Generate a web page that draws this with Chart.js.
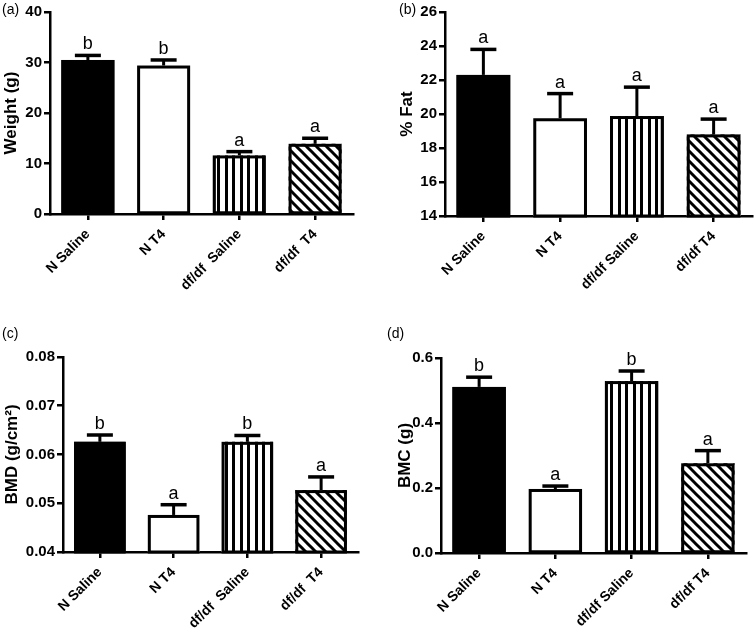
<!DOCTYPE html>
<html><head><meta charset="utf-8">
<script src="https://cdn.jsdelivr.net/npm/chart.js@4/dist/chart.umd.min.js"></script>
<style>
body{margin:0;background:#fff;}
#wrap{position:relative;width:756px;height:632px;overflow:hidden;background:#fff}
canvas{position:absolute}
.lbl{position:absolute;font:14px "Liberation Sans",Arial,sans-serif;color:#000}
</style></head><body>
<div id="wrap">
<canvas id="ca" width="378" height="316" style="left:0;top:0"></canvas>
<canvas id="cb" width="378" height="316" style="left:378px;top:0"></canvas>
<canvas id="cc" width="378" height="316" style="left:0;top:316px"></canvas>
<canvas id="cd" width="378" height="316" style="left:378px;top:316px"></canvas>
<div class="lbl" style="left:2px;top:1px">(a)</div>
<div class="lbl" style="left:399px;top:1px">(b)</div>
<div class="lbl" style="left:2px;top:325px">(c)</div>
<div class="lbl" style="left:387px;top:325px">(d)</div>
</div>
<script>
// ---- data ----
const categoriesA = ["N Saline", "N T4", "df/df  Saline", "df/df  T4"];
const categoriesB = ["N Saline", "N T4", "df/df Saline", "df/df T4"];
const categoriesC = ["N Saline", "N T4", "df/df  Saline", "df/df  T4"];
const categoriesD = ["N Saline", "N T4", "df/df Saline", "df/df T4"];

const weightMean = [30.5, 29.4, 11.6, 13.9];
const weightSem = [0.9, 1.1, 0.75, 1.1];
const weightLetters = ["b", "b", "a", "a"];
const weightTicks = [0, 10, 20, 30, 40];
const weightTickLabels = ["0", "10", "20", "30", "40"];

const fatMean = [22.3, 19.75, 19.88, 18.8];
const fatSem = [1.5, 1.45, 1.7, 0.9];
const fatLetters = ["a", "a", "a", "a"];
const fatTicks = [14, 16, 18, 20, 22, 24, 26];
const fatTickLabels = ["14", "16", "18", "20", "22", "24", "26"];

const bmdMean = [0.0626, 0.0476, 0.0626, 0.0527];
const bmdSem = [0.0014, 0.0021, 0.0013, 0.0027];
const bmdLetters = ["b", "a", "b", "a"];
const bmdTicks = [0.04, 0.05, 0.06, 0.07, 0.08];
const bmdTickLabels = ["0.04", "0.05", "0.06", "0.07", "0.08"];

const bmcMean = [0.511, 0.197, 0.529, 0.276];
const bmcSem = [0.03, 0.009, 0.031, 0.039];
const bmcLetters = ["b", "a", "b", "a"];
const bmcTicks = [0.0, 0.2, 0.4, 0.6];
const bmcTickLabels = ["0.0", "0.2", "0.4", "0.6"];

// ---- patterns ----
function vStripes() {
  const c = document.createElement('canvas'); c.width = 15; c.height = 4;
  const g = c.getContext('2d');
  g.fillStyle = '#fff'; g.fillRect(0, 0, 15, 4);
  g.fillStyle = '#000'; g.fillRect(0, 0, 3, 4); g.fillRect(7, 0, 3, 4);
  return g.createPattern(c, 'repeat');
}
function dStripes() {
  const s = 10;
  const c = document.createElement('canvas'); c.width = s; c.height = s;
  const g = c.getContext('2d');
  g.fillStyle = '#fff'; g.fillRect(0, 0, s, s);
  g.strokeStyle = '#000'; g.lineWidth = 3;
  for (let k = -2; k <= 2; k++) {
    g.beginPath(); g.moveTo(k * s - s, -s); g.lineTo(k * s + 2 * s, 2 * s); g.stroke();
  }
  return g.createPattern(c, 'repeat');
}
const FONT = '"Liberation Sans", Arial, sans-serif';

function makePanel(id, cats, means, sems, letters, ticks, tickLabels, title, geom) {
  const fills = ['#000', '#fff', vStripes(), dStripes()];
  const errPlugin = {
    id: 'err' + id,
    afterDatasetsDraw(chart) {
      const ctx = chart.ctx;
      const ys = chart.scales.y;
      const meta = chart.getDatasetMeta(0);
      const bottom = chart.chartArea.bottom;
      ctx.save();
      ctx.strokeStyle = '#000';
      meta.data.forEach((bar, i) => {
        // bar outline (drawn inside the bar)
        const l = bar.x - bar.width / 2, t = bar.y;
        const h = Math.min(bar.base, bottom) - t;
        ctx.lineWidth = 3;
        ctx.strokeRect(l + 1.5, t + 1.5, bar.width - 3, h - 1.5);
        const x = bar.x;
        const yt = ys.getPixelForValue(means[i] + sems[i]);
        ctx.lineWidth = 3;
        ctx.beginPath(); ctx.moveTo(x, t); ctx.lineTo(x, yt); ctx.stroke();
        ctx.lineWidth = 3.5;
        ctx.beginPath(); ctx.moveTo(x - 13, yt); ctx.lineTo(x + 13, yt); ctx.stroke();
        ctx.fillStyle = '#000';
        ctx.font = '18px ' + FONT;
        ctx.textAlign = 'center'; ctx.textBaseline = 'alphabetic';
        ctx.fillText(letters[i], x, yt - 6);
      });
      ctx.restore();
    }
  };
  return new Chart(document.getElementById(id), {
    type: 'bar',
    data: {
      labels: cats,
      datasets: [{
        data: means,
        backgroundColor: fills,
        borderWidth: 0,
        barPercentage: 1,
        categoryPercentage: 0.7
      }]
    },
    options: {
      responsive: false,
      animation: false,
      devicePixelRatio: 1,
      layout: { padding: { top: geom.padTop, right: geom.padRight, left: 0, bottom: 0 } },
      plugins: { legend: { display: false }, tooltip: { enabled: false } },
      scales: {
        x: {
          grid: { display: true, drawOnChartArea: false, offset: false, tickLength: 6, lineWidth: 2.5, color: '#000' },
          border: { display: true, color: '#000', width: 2.5 },
          ticks: { color: '#000', font: { family: FONT, size: 14, weight: 'bold' }, minRotation: 45, maxRotation: 45, autoSkip: false, padding: 6 },
          afterFit: (s) => { s.height = geom.xHeight; }
        },
        y: {
          min: ticks[0], max: ticks[ticks.length - 1],
          afterBuildTicks: (s) => { s.ticks = ticks.map(v => ({ value: v })); },
          grid: { display: true, drawOnChartArea: false, tickLength: 6, lineWidth: 2.5, color: '#000' },
          border: { display: true, color: '#000', width: 2.5 },
          ticks: { color: '#000', font: { family: FONT, size: 15, weight: 'bold' }, padding: 2,
                   callback: (v, i) => tickLabels[i] },
          title: { display: true, text: title, color: '#000', font: { family: FONT, size: 17, weight: 'bold' }, padding: { top: geom.titlePad, bottom: 0 } },
          afterFit: (s) => { s.width = geom.yWidth; }
        }
      }
    },
    plugins: [errPlugin]
  });
}

makePanel('ca', categoriesA, weightMean, weightSem, weightLetters, weightTicks, weightTickLabels, 'Weight (g)',
  { yWidth: 50, padTop: 12, padRight: 25, xHeight: 102, titlePad: 1 });
makePanel('cb', categoriesB, fatMean, fatSem, fatLetters, fatTicks, fatTickLabels, '% Fat',
  { yWidth: 67, padTop: 12, padRight: 4, xHeight: 100, titlePad: 19 });
makePanel('cc', categoriesC, bmdMean, bmdSem, bmdLetters, bmdTicks, bmdTickLabels, 'BMD (g/cm\u00B2)',
  { yWidth: 63, padTop: 41, padRight: 20, xHeight: 80, titlePad: 2 });
makePanel('cd', categoriesD, bmcMean, bmcSem, bmcLetters, bmcTicks, bmcTickLabels, 'BMC (g)',
  { yWidth: 63, padTop: 42, padRight: 10, xHeight: 79, titlePad: 17 });
</script>
</body></html>
